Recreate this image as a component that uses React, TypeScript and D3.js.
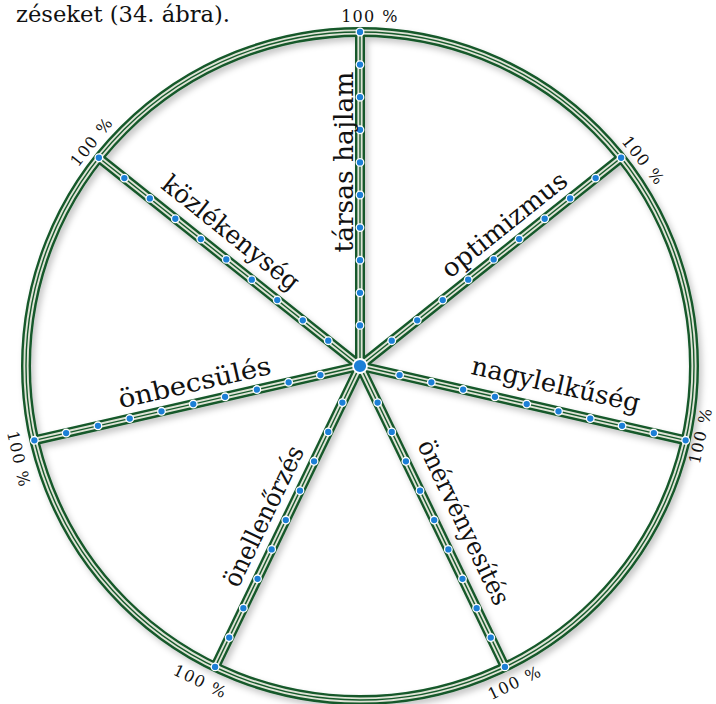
import React from 'react';
import * as d3 from 'd3';

// ---- data ----
const categories = [
  'társas hajlam',
  'optimizmus',
  'nagylelkűség',
  'önérvényesítés',
  'önellenőrzés',
  'önbecsülés',
  'közlékenység',
];
const tickValues = [10, 20, 30, 40, 50, 60, 70, 80, 90, 100];
const endNumber = '100';
const endUnit = '%';
const captionText = 'zéseket (34. ábra).';

// ---- layout (not data) ----
const W = 716;
const H = 704;
const CX = 360;
const CY = 366;
const R0 = 8;
const R = 334;
const labelLayout = [
  { along: 204, offset: 7.5, length: 181 },
  { along: 201, offset: 12, length: 153 },
  { along: 195, offset: 17, length: 172 },
  { along: 186, offset: 17, length: 180 },
  { along: 177, offset: 13, length: 153 },
  { along: 165, offset: 12, length: 156 },
  { along: 184, offset: 15, length: 168 },
];
const endShift = [10, 16, 8, 2, -7, 15, 8];
const endBase = [-10, -10, 19, 24, 25, 25, -10];

const GREEN = '#14592a';
const STRIPE = '#dfe3d6';
const BLUE = '#1c7fd6';

export default function App() {
  const n = categories.length;
  const angle = d3.scaleLinear().domain([0, n]).range([0, 360]);
  const radius = d3.scaleLinear().domain([0, 100]).range([R0, R]);
  const toRad = (deg: number) => (deg * Math.PI) / 180;
  const pt = (deg: number, r: number) => [CX + r * Math.sin(toRad(deg)), CY - r * Math.cos(toRad(deg))];

  const spokes = categories.map((c, i) => {
    const a = angle(i);
    const [x2, y2] = pt(a, radius(100));
    return { c, i, a, x2, y2 };
  });

  const layers = [
    { stroke: GREEN, w: 10 },
    { stroke: STRIPE, w: 5.2 },
    { stroke: GREEN, w: 1.4 },
  ];

  const norm = (d: number) => {
    let x = d % 360;
    if (x > 180) x -= 360;
    if (x <= -180) x += 360;
    return x;
  };

  return (
    <svg width={W} height={H} style={{ position: 'absolute', left: 0, top: 0, display: 'block', background: '#fff' }}>
      <defs>
        <filter id="sh" x="-10%" y="-10%" width="120%" height="120%">
          <feDropShadow dx="3" dy="4" stdDeviation="3" floodColor="#000" floodOpacity="0.22" />
        </filter>
      </defs>
      <text x={16} y={22} fontFamily="DejaVu Serif" fontSize={22} fill="#111" textLength={214} lengthAdjust="spacingAndGlyphs">
        {captionText}
      </text>

      <g filter="url(#sh)">
        {layers.map((l, li) => (
          <g key={li} fill="none" stroke={l.stroke} strokeWidth={l.w}>
            <circle cx={CX} cy={CY} r={radius(100)} />
            {spokes.map((s) => (
              <line key={s.i} x1={CX} y1={CY} x2={s.x2} y2={s.y2} strokeLinecap="butt" />
            ))}
          </g>
        ))}
      </g>

      {spokes.map((s) =>
        tickValues.map((v) => {
          const [x, y] = pt(s.a, radius(v));
          return <circle key={s.i + '-' + v} cx={x} cy={y} r={3.8} fill={BLUE} stroke="#fff" strokeWidth={1.3} />;
        })
      )}
      <circle cx={CX} cy={CY} r={7} fill={BLUE} stroke="#fff" strokeWidth={1.8} />

      {spokes.map((s) => {
        const L = labelLayout[s.i];
        const [x, y] = pt(s.a, L.along);
        let rot = norm(s.a - 90);
        if (rot > 90 || rot < -90) rot = norm(rot + 180);
        return (
          <text
            key={'l' + s.i}
            transform={`translate(${x},${y}) rotate(${rot})`}
            y={-L.offset}
            textAnchor="middle"
            fontFamily="DejaVu Serif"
            fontSize={25.5}
            fill="#111"
            textLength={L.length}
            lengthAdjust="spacingAndGlyphs"
          >
            {s.c}
          </text>
        );
      })}

      {spokes.map((s) => {
        const top = norm(s.a) >= -90 && norm(s.a) <= 90;
        const rot = top ? norm(s.a) : norm(s.a - 180);
        return (
          <text
            key={'e' + s.i}
            transform={`translate(${s.x2},${s.y2}) rotate(${rot})`}
            x={endShift[s.i]}
            y={endBase[s.i]}
            textAnchor="middle"
            fontFamily="DejaVu Serif"
            fontSize={16}
            fill="#111"
            letterSpacing={1.2}
          >
            <tspan>{endNumber}</tspan>
            <tspan dx={7}>{endUnit}</tspan>
          </text>
        );
      })}
    </svg>
  );
}
